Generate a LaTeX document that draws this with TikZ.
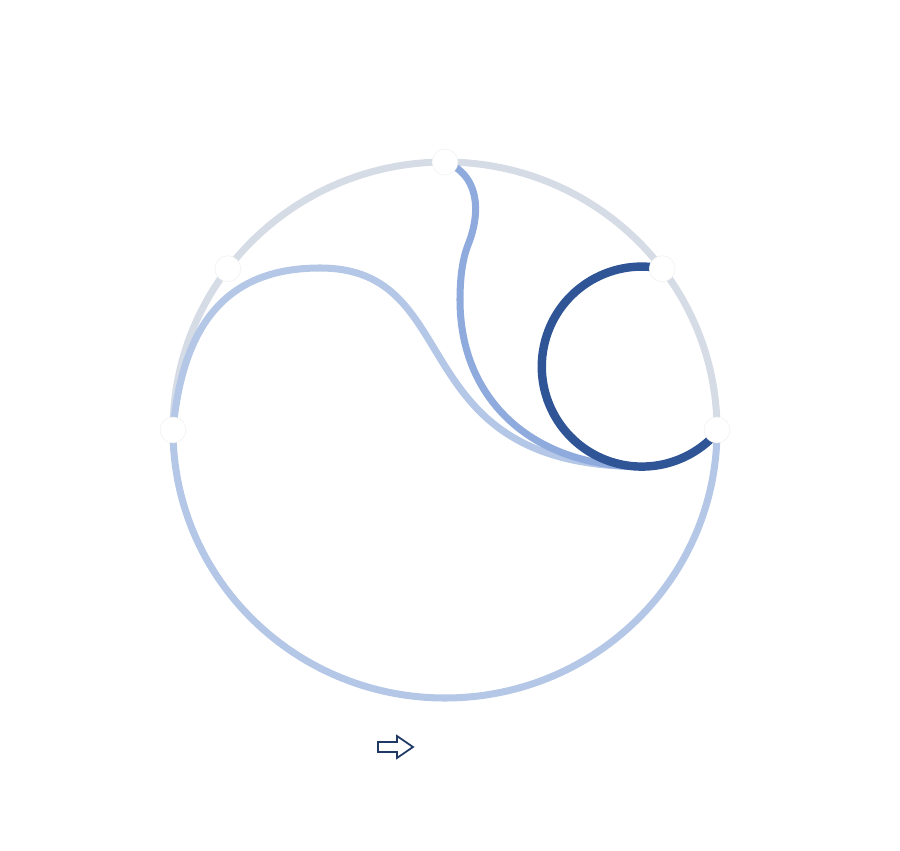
\documentclass[tikz,border=0pt]{standalone}
\usepackage{tikz}
\usetikzlibrary{calc}
\definecolor{rimgray}{RGB}{214,220,230}
\definecolor{paleblue}{RGB}{180,199,231}
\definecolor{midblue}{RGB}{143,170,220}
\definecolor{deepblue}{RGB}{47,85,151}
\definecolor{navyline}{RGB}{32,56,100}

\begin{document}
\begin{tikzpicture}[x=0.02cm,y=0.02cm,
    wire/.style={line width=4pt},
    rim/.style={x radius=272,y radius=268},
    dot/.style={circle,fill=white,draw=black!6,line width=0.3pt,inner sep=0pt,minimum size=5.2mm}]
  \useasboundingbox (0,0) rectangle (900,850);
  % points on the rim
  \coordinate (c) at (445,420);
  \coordinate (left) at ($(c)+(-272,0)$);
  \coordinate (ul) at ($(c)+({272*cos(143)},{268*sin(143)})$);
  \coordinate (top) at ($(c)+(0,268)$);
  \coordinate (ur) at ($(c)+({272*cos(37)},{268*sin(37)})$);
  \coordinate (right) at ($(c)+(272,0)$);
  \coordinate (hub) at (641.8,483.4);
  \coordinate (bot) at ($(hub)+(0,-100)$);
  % rim
  \draw[wire,rimgray] (left) arc[start angle=180,end angle=0,rim];
  \draw[wire,paleblue] (left) arc[start angle=180,end angle=360,rim];
  % inner curves
  \draw[wire,paleblue] (left) .. controls (183,530) and (230,582) .. (320,582)
    .. controls (469,582) and (399,383.4) .. (bot)
    arc[start angle=270,end angle=318.9,radius=100];
  \draw[wire,midblue] (top) .. controls (478,676) and (482,640) .. (468,605)
    .. controls (462,590) and (460,570) .. (460,550)
    .. controls (460,450) and (532.7,383.4) .. (bot)
    arc[start angle=270,end angle=318.9,radius=100];
  \draw[line width=4.8pt,deepblue] (ur) arc[start angle=78.2,end angle=318.9,radius=100];
  % dots
  \foreach \p in {left,ul,top,ur,right}
    \node[dot] (d-\p) at (\p) {};
  % arrow
  \draw[navyline,line width=1pt,fill=white] (378,98) -- (378,108) -- (397,108) -- (397,114)
    -- (413,103) -- (397,92) -- (397,98) -- cycle;
\end{tikzpicture}
\end{document}
